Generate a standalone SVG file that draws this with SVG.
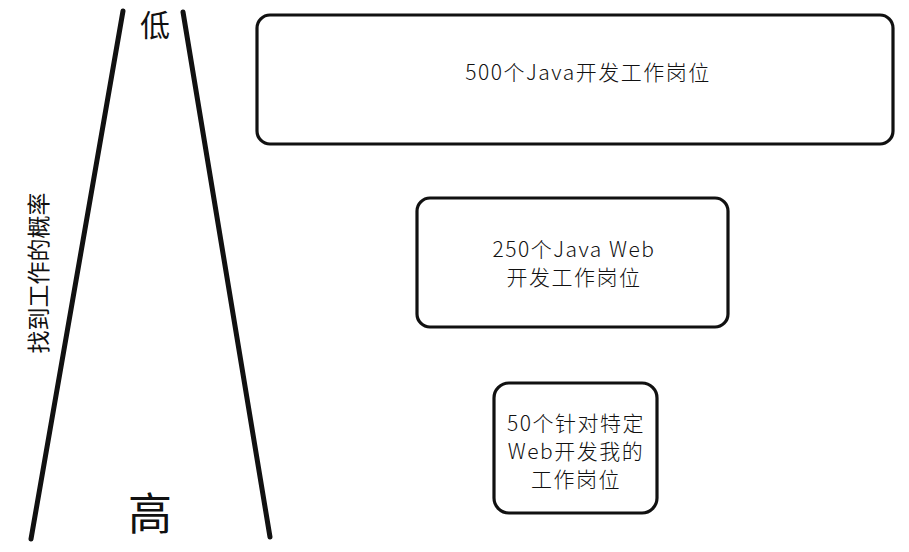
<svg xmlns="http://www.w3.org/2000/svg" width="909" height="552" viewBox="0 0 909 552">
<style>
.box{fill:#fff;stroke:#111;stroke-width:3.2;}
.t{font-family:"Noto Sans CJK SC","Noto Sans",sans-serif;font-weight:300;font-size:21px;letter-spacing:1.5px;fill:#111;text-anchor:middle;}
.big{font-family:"Noto Sans CJK SC",sans-serif;fill:#111;text-anchor:middle;}
.ln{stroke:#111;stroke-width:5;stroke-linecap:round;fill:none;}
</style>
<rect width="909" height="552" fill="#fff"/>
<g id="funnel">
<line class="ln" x1="123" y1="11" x2="31" y2="539"/>
<line class="ln" x1="183" y1="12" x2="270" y2="537"/>
</g>
<g id="label-low"><text class="big" x="155" y="36" font-size="30">低</text></g>
<g id="label-high"><text class="big" x="150" y="530" font-size="44">高</text></g>
<g id="axis-label"><text class="big" font-size="23" transform="translate(47,273) rotate(-90)">找到工作的概率</text></g>
<g id="box-500">
<rect class="box" x="257" y="15" width="636" height="129" rx="13"/>
<text class="t" x="588" y="80">500个Java开发工作岗位</text>
</g>
<g id="box-250">
<rect class="box" x="417" y="198" width="311" height="129" rx="13"/>
<text class="t" x="574" y="257">250个Java Web</text>
<text class="t" x="574" y="285">开发工作岗位</text>
</g>
<g id="box-50">
<rect class="box" x="494" y="383" width="163" height="130" rx="15"/>
<text class="t" x="576" y="431">50个针对特定</text>
<text class="t" x="576" y="459">Web开发我的</text>
<text class="t" x="576" y="487">工作岗位</text>
</g>
<g id="connectors"></g>
</svg>
